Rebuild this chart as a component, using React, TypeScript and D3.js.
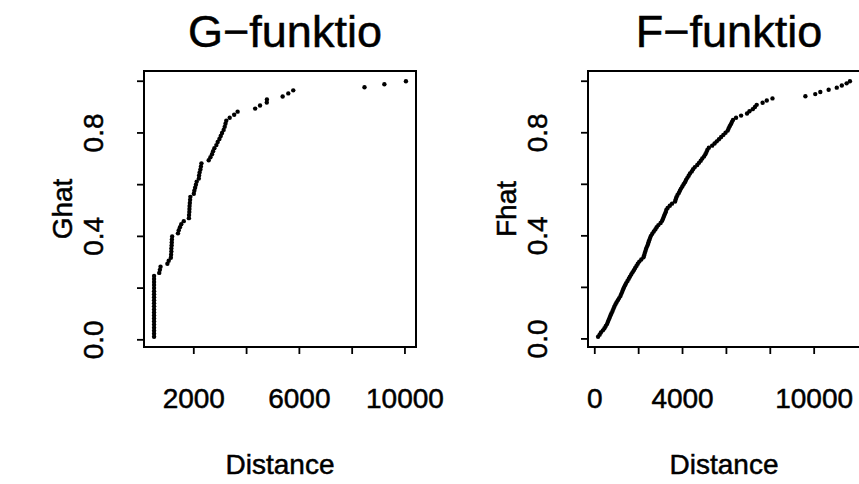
import React, { useEffect, useRef } from 'react';
import * as d3 from 'd3';

// nearest neighbour distances (G)
const gDistances = [
  495, 495, 495, 495, 495, 495, 495, 495, 495, 495, 495, 495, 495, 495, 495, 495, 495, 495, 495, 495, 495,
  690, 715, 740,
  1000, 1050,
  1130, 1140, 1150, 1150, 1160, 1165, 1170, 1180,
  1400, 1430, 1475,
  1525, 1620,
  1815, 1820, 1830, 1835, 1840, 1850, 1860, 1870,
  2000, 2020, 2050, 2080, 2110,
  2190, 2200, 2220, 2250, 2270, 2290,
  2565, 2630,
  2690, 2730, 2780,
  2855, 2905,
  2970, 3020, 3070, 3130,
  3170, 3200, 3230,
  3360, 3530, 3660, 4325, 4510, 4765, 4770, 5366, 5580, 5768, 8467, 9220, 10037,
];

// empty space distances (F)
const fDistances = [
  150, 220, 280, 370, 440, 500, 560, 600, 640, 680,
  720, 760, 810, 850, 890, 940, 990, 1050, 1110, 1170,
  1210, 1250, 1290, 1330, 1380, 1430, 1490, 1550, 1600, 1660,
  1720, 1780, 1840, 1900, 1960, 2030, 2120, 2220, 2250, 2280,
  2310, 2340, 2380, 2420, 2450, 2480, 2520, 2560, 2620, 2690,
  2760, 2820, 2900, 3000, 3070, 3110, 3150, 3190, 3230, 3260,
  3320, 3420, 3520, 3660, 3690, 3720, 3770, 3830, 3880, 3930,
  3990, 4050, 4110, 4160, 4220, 4280, 4340, 4420, 4480, 4560,
  4670, 4750, 4830, 4900, 4980, 5040, 5090, 5130, 5200, 5350,
  5460, 5560, 5660, 5760, 5860, 5960, 6060, 6100, 6150, 6200,
  6250, 6300, 6440, 6670, 6940, 7050, 7200, 7300, 7380, 7650,
  7840, 8100, 9600, 10050, 10280, 10660, 11030, 11260, 11480, 11630,
];

const gTitle = 'G\u2212funktio';
const fTitle = 'F\u2212funktio';
const xTitle = 'Distance';

const gTicksX = [2000, 4000, 6000, 8000, 10000];
const gLabelsX = [2000, 6000, 10000];
const fTicksX = [0, 2000, 4000, 6000, 8000, 10000];
const fLabelsX = [0, 4000, 10000];
const ticksY = [0, 0.2, 0.4, 0.6, 0.8, 1.0];
const labelsY = [0, 0.4, 0.8];

const width = 859;
const height = 484;
const font = "'Liberation Sans', Arial, Helvetica, sans-serif";

// pad a range by 4% on each side, like R does
function padded(lo: number, hi: number): [number, number] {
  const r = hi - lo;
  return [lo - 0.04 * r, hi + 0.04 * r];
}

function App() {
  const svgRef = useRef<SVGSVGElement>(null);

  useEffect(() => {
    const svg = d3.select(svgRef.current);
    svg.selectAll('*').remove();
    svg.append('rect').attr('width', width).attr('height', height).attr('fill', 'white');

    const panels = [
      { title: gTitle, ylab: 'Ghat', dist: gDistances, ticksX: gTicksX, labelsX: gLabelsX, left: 144 },
      { title: fTitle, ylab: 'Fhat', dist: fDistances, ticksX: fTicksX, labelsX: fLabelsX, left: 588 },
    ];

    const top = 71;
    const bottom = 347;
    const boxW = 272;

    // scanned look: text a touch heavier than regular
    const label = (sel: any, size: number) =>
      sel.attr('font-family', font)
        .attr('font-size', size)
        .attr('fill', 'black')
        .attr('stroke', 'black')
        .attr('stroke-width', 0.5);

    panels.forEach((p) => {
      const sorted = p.dist.slice().sort((a, b) => a - b);
      const n = sorted.length;
      const pts = sorted.map((d, i) => ({ x: d, y: (i + 1) / n }));

      const x = d3.scaleLinear()
        .domain(padded(d3.min(sorted) as number, d3.max(sorted) as number))
        .range([p.left, p.left + boxW]);
      const y = d3.scaleLinear()
        .domain(padded(1 / n, 1))
        .range([bottom, top]);

      const g = svg.append('g');

      // points
      g.selectAll('circle')
        .data(pts)
        .enter()
        .append('circle')
        .attr('cx', (d) => x(d.x))
        .attr('cy', (d) => y(d.y))
        .attr('r', 2.2)
        .attr('fill', 'black');

      // box
      g.append('rect')
        .attr('x', p.left)
        .attr('y', top)
        .attr('width', boxW)
        .attr('height', bottom - top)
        .attr('fill', 'none')
        .attr('stroke', 'black')
        .attr('stroke-width', 2);

      // x axis ticks
      g.selectAll('line.xt')
        .data(p.ticksX)
        .enter()
        .append('line')
        .attr('x1', (d) => x(d))
        .attr('x2', (d) => x(d))
        .attr('y1', bottom)
        .attr('y2', bottom + 7)
        .attr('stroke', 'black')
        .attr('stroke-width', 1.8);

      label(g.selectAll('text.xl')
        .data(p.labelsX)
        .enter()
        .append('text')
        .attr('x', (d) => x(d))
        .attr('y', 408)
        .attr('text-anchor', 'middle'), 28)
        .text((d: number) => String(d));

      // y axis ticks
      g.selectAll('line.yt')
        .data(ticksY)
        .enter()
        .append('line')
        .attr('x1', p.left - 7)
        .attr('x2', p.left)
        .attr('y1', (d) => y(d))
        .attr('y2', (d) => y(d))
        .attr('stroke', 'black')
        .attr('stroke-width', 1.8);

      label(g.selectAll('text.yl')
        .data(labelsY)
        .enter()
        .append('text')
        .attr('transform', (d) => `translate(${p.left - 41},${y(d)}) rotate(-90)`)
        .attr('text-anchor', 'middle'), 28)
        .text((d: number) => d3.format('.1f')(d));

      // titles
      label(g.append('text')
        .attr('x', p.left + boxW / 2 + 5)
        .attr('y', 47)
        .attr('text-anchor', 'middle'), 45)
        .text(p.title);

      label(g.append('text')
        .attr('x', p.left + boxW / 2)
        .attr('y', 474)
        .attr('text-anchor', 'middle'), 28)
        .text(xTitle);

      label(g.append('text')
        .attr('transform', `translate(${p.left - 72},${(top + bottom) / 2}) rotate(-90)`)
        .attr('text-anchor', 'middle'), 28)
        .text(p.ylab);
    });
  }, []);

  return (
    <svg
      ref={svgRef}
      width={width}
      height={height}
      style={{ position: 'absolute', left: 0, top: 0, display: 'block' }}
    />
  );
}

export default App;
